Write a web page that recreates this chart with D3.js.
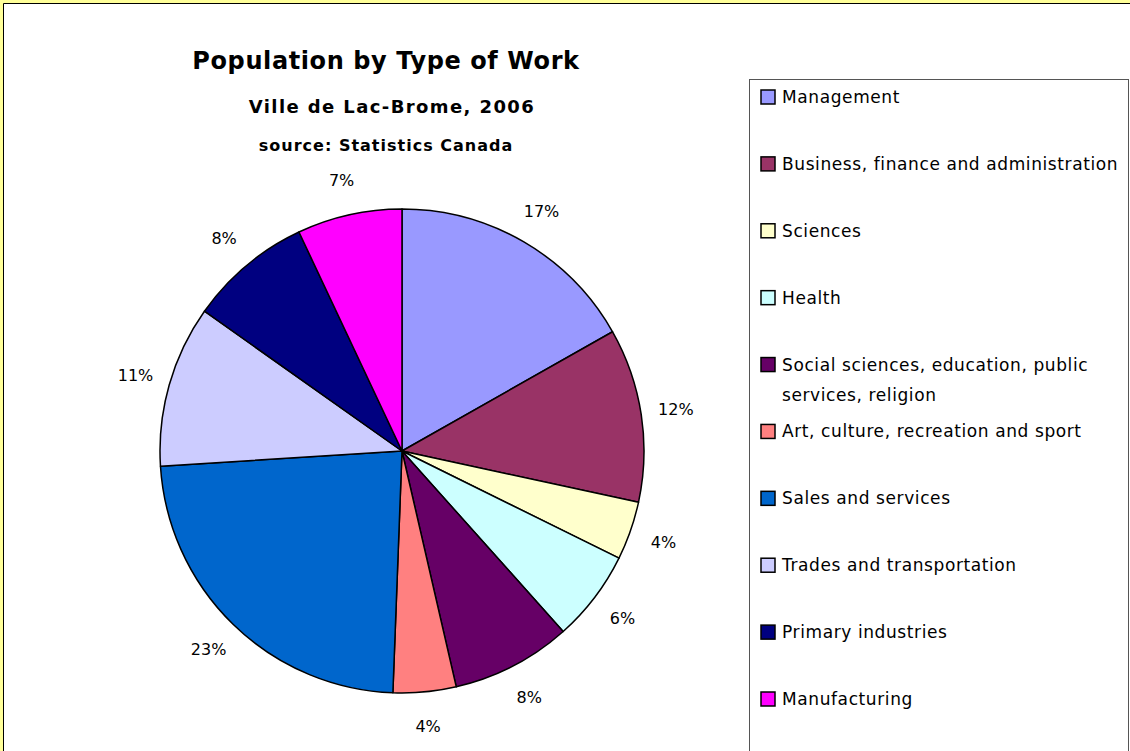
<!DOCTYPE html>
<html>
<head>
<meta charset="utf-8">
<script src="https://cdn.jsdelivr.net/npm/d3@7"></script>
<style>
  body { margin:0; background:#fff; }
  svg text { font-family: "DejaVu Sans", Verdana, sans-serif; fill:#000; }
</style>
</head>
<body>
<div id="chart"></div>
<script>
// pie of occupation shares, Lac-Brome 2006
const categories = ['Management','Business, finance and administration','Sciences','Health',
  'Social sciences, education, public services, religion','Art, culture, recreation and sport',
  'Sales and services','Trades and transportation','Primary industries','Manufacturing'];
const shares = [16.8, 11.6, 3.9, 6.1, 8.0, 4.2, 23.4, 10.8, 8.2, 7.0];
const colors = ['#9999FF','#993366','#FFFFCC','#CCFFFF','#660066','#FF8080','#0066CC','#CCCCFF','#000080','#FF00FF'];
// legend text split into lines (one item wraps)
const legendLines = [['Management'],['Business, finance and administration'],['Sciences'],['Health'],
  ['Social sciences, education, public','services, religion'],['Art, culture, recreation and sport'],
  ['Sales and services'],['Trades and transportation'],['Primary industries'],['Manufacturing']];

const W = 1130, H = 751;
const svg = d3.select('#chart').append('svg').attr('width', W).attr('height', H);

// yellow frame with black inner edge
svg.append('rect').attr('x',0).attr('y',0).attr('width',W).attr('height',H).attr('fill','#FFFF99');
svg.append('rect').attr('x',4).attr('y',4).attr('width',W).attr('height',H).attr('fill','#fff');
svg.append('line').attr('x1',3.5).attr('x2',W).attr('y1',3.5).attr('y2',3.5).attr('stroke','#000');
svg.append('line').attr('x1',3.5).attr('x2',3.5).attr('y1',3.5).attr('y2',H).attr('stroke','#000');

// titles
const cx = 386;
svg.append('text').attr('x',cx).attr('y',69).attr('text-anchor','middle').attr('font-size',24)
  .attr('font-weight','bold').attr('letter-spacing',0.6).text('Population by Type of Work');
svg.append('text').attr('x',cx+6).attr('y',113).attr('text-anchor','middle').attr('font-size',18)
  .attr('font-weight','bold').attr('letter-spacing',1.4).text('Ville de Lac-Brome, 2006');
svg.append('text').attr('x',cx).attr('y',151).attr('text-anchor','middle').attr('font-size',16)
  .attr('font-weight','bold').attr('letter-spacing',1).text('source:  Statistics Canada');

// pie
const center = [402, 451], R = 242;
const total = d3.sum(shares);
const pie = d3.pie().sort(null).value(d => d)(shares);
const arc = d3.arc().innerRadius(0).outerRadius(R);
const labelArc = d3.arc().innerRadius(277).outerRadius(277);
const g = svg.append('g').attr('transform', `translate(${center})`);
g.selectAll('path').data(pie).join('path')
  .attr('d', arc).attr('fill', (d,i) => colors[i])
  .attr('stroke','#000').attr('stroke-width',1.5).attr('stroke-linejoin','round');
const fmt = d3.format('.0%');
g.selectAll('text.pct').data(pie).join('text').attr('class','pct')
  .attr('transform', d => `translate(${labelArc.centroid(d)})`)
  .attr('text-anchor','middle').attr('dy','0.35em').attr('font-size',16)
  .text(d => fmt(d.data / total));

// legend
const lg = svg.append('g');
lg.append('rect').attr('x',749.5).attr('y',79.5).attr('width',379).attr('height',H)
  .attr('fill','#fff').attr('stroke','#555').attr('stroke-width',1);
const ly = d3.scalePoint().domain(d3.range(categories.length)).range([97, 699]);
categories.forEach((c,i) => {
  const y = ly(i);
  lg.append('rect').attr('x',761).attr('y',y-7).attr('width',14).attr('height',14)
    .attr('fill',colors[i]).attr('stroke','#000').attr('stroke-width',1.5);
  legendLines[i].forEach((t,j) => {
    lg.append('text').attr('x',782).attr('y',y + j*30).attr('dy','0.35em').attr('font-size',17)
      .attr('letter-spacing',0.6).text(t);
  });
});
</script>
</body>
</html>
